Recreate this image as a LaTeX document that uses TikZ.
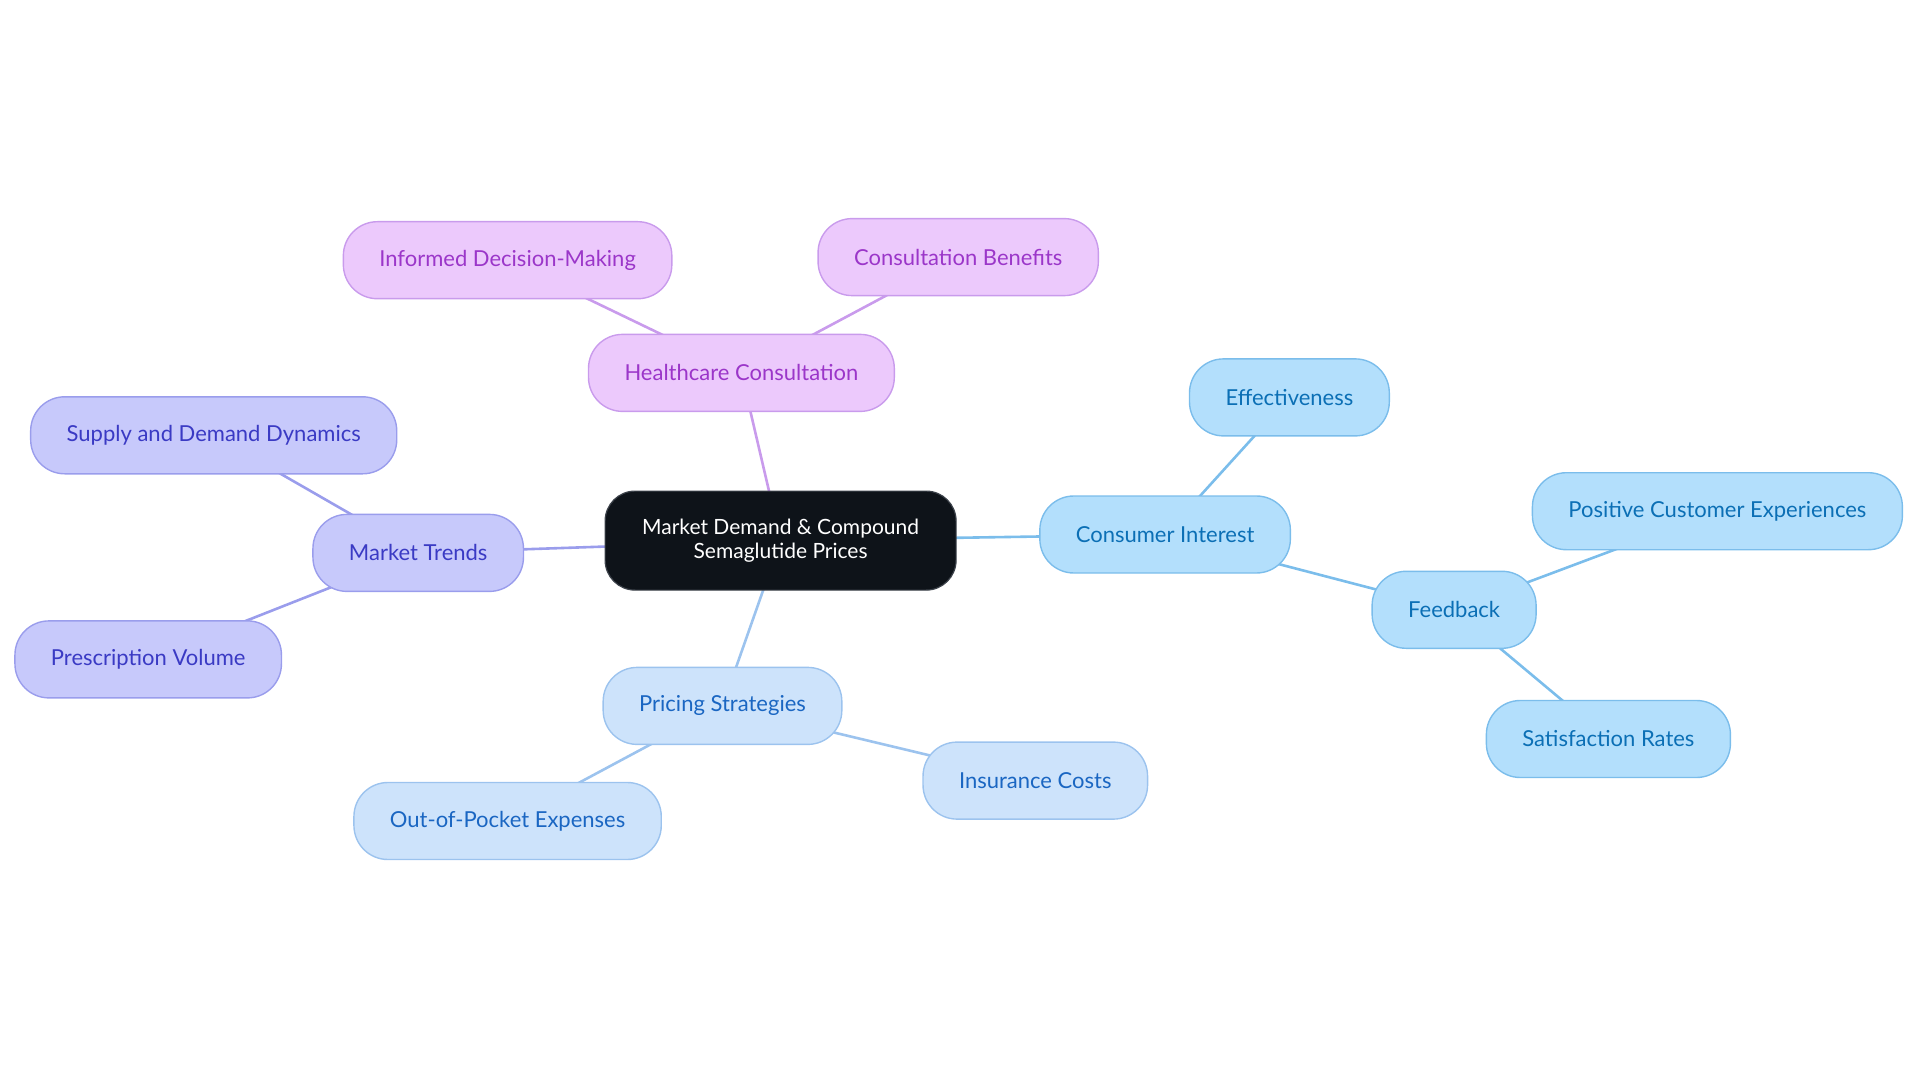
\documentclass[tikz,border=0pt]{standalone}
\usepackage{fontspec}
\setmainfont{Lato}
\usepackage{tikz}
\usetikzlibrary{backgrounds}

\definecolor{rootfill}{HTML}{0E1319}
\definecolor{rootline}{HTML}{3C424A}
\definecolor{carefill}{HTML}{ECC9FC}
\definecolor{careline}{HTML}{C99BEC}
\definecolor{caretext}{HTML}{9B36C9}
\definecolor{trendfill}{HTML}{C7C9FB}
\definecolor{trendline}{HTML}{9A9DEC}
\definecolor{trendtext}{HTML}{3A3AC4}
\definecolor{pricefill}{HTML}{CDE3FB}
\definecolor{priceline}{HTML}{9CC3EE}
\definecolor{pricetext}{HTML}{1A66C2}
\definecolor{userfill}{HTML}{B3DFFC}
\definecolor{userline}{HTML}{7BBDEB}
\definecolor{usertext}{HTML}{0B6FB5}

\tikzset{
  topic/.style={rounded corners=34pt, minimum height=77pt, inner xsep=36pt,
    line width=1.4pt, font=\fontsize{22}{25}\selectfont},
  care/.style={topic, fill=carefill, draw=careline, text=caretext},
  trend/.style={topic, fill=trendfill, draw=trendline, text=trendtext},
  price/.style={topic, fill=pricefill, draw=priceline, text=pricetext},
  user/.style={topic, fill=userfill, draw=userline, text=usertext},
  link/.style={line width=2.6pt},
}

\begin{document}
\begin{tikzpicture}[x=1pt,y=-1pt]
      \useasboundingbox (0,0) rectangle (1920,1083);

      \begin{scope}
        \node[rounded corners=30pt, minimum width=351pt, minimum height=99pt,
          fill=rootfill, draw=rootline, line width=1.2pt, text=white, align=center,
          font=\fontsize{21}{24}\selectfont] (root) at (780.6,540.6)
          {Market Demand \& Compound\\Semaglutide Prices};

        \node[care] (care) at (741.4,372.9) {Healthcare Consultation};
        \node[care] (decide) at (507.6,260.2) {Informed Decision-Making};
        \node[care] (benefit) at (958.2,257.1) {Consultation Benefits};

        \node[trend] (trends) at (418.2,552.9) {Market Trends};
        \node[trend] (supply) at (213.7,435.3) {Supply and Demand Dynamics};
        \node[trend] (volume) at (148.2,659.4) {Prescription Volume};

        \node[price] (pricing) at (722.5,705.9) {Pricing Strategies};
        \node[price] (pocket) at (507.6,821.0) {Out-of-Pocket Expenses};
        \node[price] (insure) at (1035.3,780.6) {Insurance Costs};

        \node[user] (interest) at (1165.1,534.5) {Consumer Interest};
        \node[user] (effect) at (1289.4,397.4) {Effectiveness};
        \node[user] (feedback) at (1454.1,609.8) {Feedback};
        \node[user] (positive) at (1717.4,511.2) {Positive Customer Experiences};
        \node[user] (satisf) at (1608.4,739.0) {Satisfaction Rates};
      \end{scope}

      % links sit behind the boxes
      \begin{scope}[on background layer]
        \path [link, draw=careline] (root.center) edge[link] (care.center);
        \path [link, draw=careline] (care.center) edge[link] (decide.center);
        \path [link, draw=careline] (care.center) edge[link] (benefit.center);

        \path [link, draw=trendline] (root.center) edge[link] (trends.center);
        \path [link, draw=trendline] (trends.center) edge[link] (supply.center);
        \path [link, draw=trendline] (trends.center) edge[link] (volume.center);

        \path [link, draw=priceline] (root.center) edge[link] (pricing.center);
        \path [link, draw=priceline] (pricing.center) edge[link] (pocket.center);
        \path [link, draw=priceline] (pricing.center) edge[link] (insure.center);

        \path [link, draw=userline] (root.center) edge[link] (interest.center);
        \path [link, draw=userline] (interest.center) edge[link] (effect.center);
        \path [link, draw=userline] (interest.center) edge[link] (feedback.center);
        \path [link, draw=userline] (feedback.center) edge[link] (positive.center);
        \path [link, draw=userline] (feedback.center) edge[link] (satisf.center);
      \end{scope}
    \end{tikzpicture}
\end{document}
